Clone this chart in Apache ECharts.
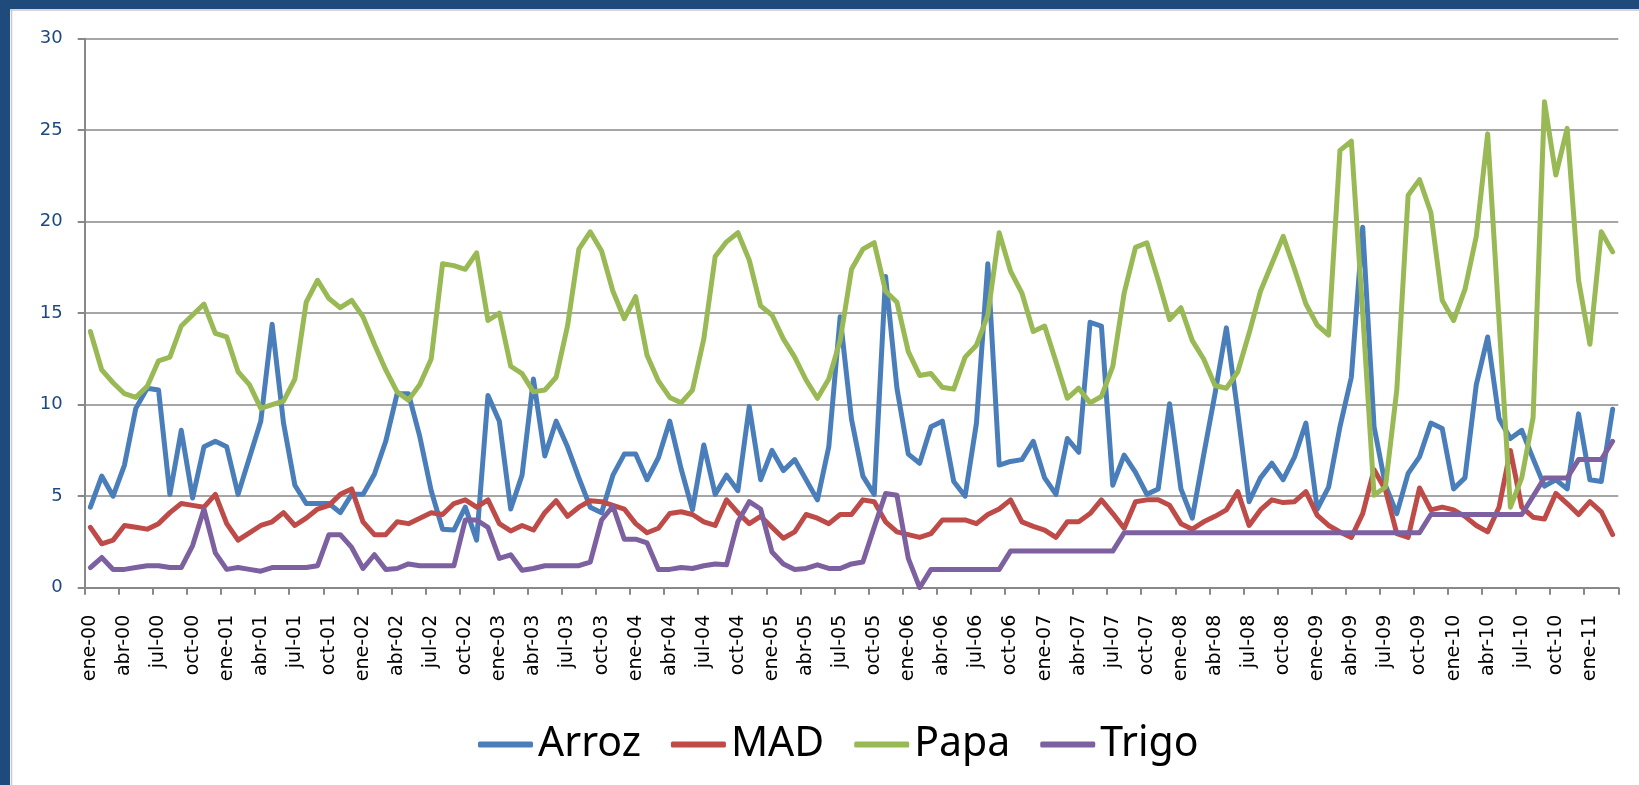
<!DOCTYPE html>
<html>
<head>
<meta charset="utf-8">
<script src="https://cdn.jsdelivr.net/npm/echarts@6/dist/echarts.min.js"></script>
<style>
html,body{margin:0;padding:0;background:#fff;}
#chart{width:1639px;height:785px;}
</style>
</head>
<body>
<div id="chart"></div>
<script>
// Month abbreviations (Spanish) and years used to form the category labels
const monthNames = ['ene','feb','mar','abr','may','jun','jul','ago','sep','oct','nov','dic'];
const years = ['00','01','02','03','04','05','06','07','08','09','10','11'];
const monthCount = 135; // ene-00 .. mar-11

const arroz = [
  4.4, 6.1, 5.0, 6.7, 9.8, 10.9, 10.8, 5.1, 8.6, 4.9, 7.7, 8.0, 7.7, 5.1, 7.1, 9.1, 14.4, 9.0, 5.6, 4.6, 4.6, 4.6, 4.1, 5.1, 5.1, 6.2, 8.0,
  10.6, 10.6, 8.25, 5.3, 3.2, 3.15, 4.4, 2.6, 10.5, 9.1, 4.3, 6.15, 11.4, 7.2, 9.1, 7.7, 6.0, 4.4, 4.1, 6.15, 7.3, 7.3, 5.9, 7.1, 9.1, 6.5,
  4.25, 7.8, 5.1, 6.15, 5.3, 9.9, 5.9, 7.5, 6.4, 7.0, 5.9, 4.8, 7.7, 14.8, 9.2, 6.1, 5.1, 17.0, 10.9, 7.3, 6.8, 8.8, 9.1, 5.8, 5.0, 9.0, 17.7,
  6.7, 6.9, 7.0, 8.0, 6.0, 5.1, 8.15, 7.4, 14.5, 14.3, 5.6, 7.25, 6.3, 5.1, 5.4, 10.05, 5.4, 3.8, 7.25, 10.6, 14.2, 9.6, 4.7, 6.0, 6.8, 5.9,
  7.15, 9.0, 4.3, 5.5, 8.8, 11.5, 19.7, 8.8, 5.6, 4.05, 6.25, 7.15, 9.0, 8.7, 5.4, 6.0, 11.1, 13.7, 9.25, 8.15, 8.6, 7.05, 5.55, 5.9, 5.4, 9.5, 5.9, 5.8, 9.75
];
const mad = [
  3.3, 2.4, 2.6, 3.4, 3.3, 3.2, 3.5, 4.1, 4.6, 4.5, 4.4, 5.1, 3.5, 2.6, 3.0, 3.4, 3.6, 4.1, 3.4, 3.8, 4.3, 4.5, 5.1, 5.4, 3.6, 2.9, 2.9,
  3.6, 3.5, 3.8, 4.1, 4.0, 4.6, 4.8, 4.4, 4.8, 3.5, 3.1, 3.4, 3.15, 4.1, 4.75, 3.9, 4.4, 4.75, 4.7, 4.5, 4.3, 3.5, 3.0, 3.25, 4.05, 4.15,
  4.0, 3.6, 3.4, 4.8, 4.1, 3.5, 3.9, 3.3, 2.7, 3.05, 4.0, 3.8, 3.5, 4.0, 4.0, 4.8, 4.7, 3.6, 3.05, 2.9, 2.75, 2.95, 3.7, 3.7, 3.7, 3.5, 4.0,
  4.3, 4.8, 3.6, 3.35, 3.15, 2.75, 3.6, 3.6, 4.05, 4.8, 4.05, 3.25, 4.7, 4.8, 4.8, 4.5, 3.5, 3.2, 3.6, 3.9, 4.25, 5.25, 3.4, 4.25, 4.8, 4.65,
  4.7, 5.25, 3.95, 3.4, 3.05, 2.75, 4.05, 6.45, 5.35, 2.95, 2.75, 5.45, 4.25, 4.4, 4.25, 3.9, 3.4, 3.05, 4.4, 7.5, 4.4, 3.85, 3.75, 5.15, 4.6, 4.0, 4.7, 4.15, 2.9
];
const papa = [
  14.0, 11.9, 11.2, 10.6, 10.4, 11.0, 12.4, 12.6, 14.3, 14.9, 15.5, 13.9, 13.7, 11.8, 11.1, 9.8, 10.0, 10.2, 11.4, 15.6, 16.8, 15.8, 15.3, 15.7, 14.8, 13.3, 11.9,
  10.7, 10.25, 11.1, 12.5, 17.7, 17.6, 17.4, 18.3, 14.6, 15.0, 12.1, 11.7, 10.7, 10.8, 11.5, 14.3, 18.5, 19.45, 18.4, 16.2, 14.7, 15.9, 12.7, 11.3, 10.4, 10.1,
  10.8, 13.6, 18.1, 18.9, 19.4, 17.9, 15.4, 14.9, 13.6, 12.6, 11.35, 10.35, 11.4, 13.5, 17.4, 18.5, 18.85, 16.2, 15.6, 12.9, 11.6, 11.7, 10.95, 10.85, 12.6, 13.25, 14.9,
  19.4, 17.3, 16.1, 14.0, 14.3, 12.35, 10.35, 10.9, 10.1, 10.45, 12.1, 16.1, 18.6, 18.85, 16.8, 14.65, 15.3, 13.5, 12.5, 11.05, 10.9, 11.8, 13.9, 16.2, 17.7, 19.2,
  17.4, 15.5, 14.35, 13.8, 23.9, 24.4, 15.0, 5.05, 5.5, 10.8, 21.45, 22.3, 20.5, 15.7, 14.6, 16.3, 19.2, 24.8, 14.6, 4.4, 6.0, 9.3, 26.55, 22.55, 25.1, 16.8, 13.3, 19.45, 18.35
];
const trigo = [
  1.1, 1.65, 1.0, 1.0, 1.1, 1.2, 1.2, 1.1, 1.1, 2.3, 4.3, 1.9, 1.0, 1.1, 1.0, 0.9, 1.1, 1.1, 1.1, 1.1, 1.2, 2.9, 2.9, 2.2, 1.05, 1.8, 1.0,
  1.05, 1.3, 1.2, 1.2, 1.2, 1.2, 3.7, 3.7, 3.3, 1.6, 1.8, 0.95, 1.05, 1.2, 1.2, 1.2, 1.2, 1.4, 3.7, 4.45, 2.65, 2.65, 2.45, 1.0, 1.0, 1.1,
  1.05, 1.2, 1.3, 1.25, 3.6, 4.7, 4.3, 1.95, 1.3, 1.0, 1.05, 1.25, 1.05, 1.05, 1.3, 1.4, 3.3, 5.15, 5.05, 1.6, 0.0, 1.0, 1.0, 1.0, 1.0, 1.0, 1.0,
  1.0, 2, 2, 2, 2, 2, 2, 2, 2, 2, 2, 3, 3, 3, 3, 3, 3, 3, 3, 3, 3, 3, 3, 3, 3, 3,
  3, 3, 3, 3, 3, 3, 3, 3, 3, 3, 3, 3, 4, 4, 4, 4, 4, 4, 4, 4, 4, 5, 6, 6, 6, 7, 7, 7, 8
];
const yTicks = [0, 5, 10, 15, 20, 25, 30];

const categories = [];
for (let i = 0; i < monthCount; i++) {
  categories.push(monthNames[i % 12] + '-' + years[Math.floor(i / 12)]);
}

const frameBlue = '#1F4A7C';
const gridGray = '#888888';
const labelFont = "'DejaVu Sans', sans-serif";

const chart = echarts.init(document.getElementById('chart'), null, {renderer: 'canvas'});

function lineSeries(name, data, color) {
  return {
    name: name, type: 'line', data: data,
    showSymbol: false, symbol: 'none', smooth: false, animation: false,
    lineStyle: {color: color, width: 5, cap: 'round', join: 'round'},
    itemStyle: {color: color}
  };
}

chart.setOption({
  backgroundColor: '#ffffff',
  animation: false,
  grid: {left: 84.7, right: 20.7, top: 38.7, bottom: 197.3, containLabel: false},
  xAxis: {
    type: 'category', data: categories, boundaryGap: true,
    axisLine: {show: true, lineStyle: {color: gridGray, width: 2}},
    axisTick: {show: true, interval: 2, length: 7, lineStyle: {color: gridGray, width: 2}},
    axisLabel: {
      interval: 2, rotate: 90, margin: 27, color: '#000000',
      fontSize: 19, fontFamily: labelFont
    },
    splitLine: {show: false}
  },
  yAxis: {
    type: 'value', min: yTicks[0], max: yTicks[yTicks.length - 1], interval: 5,
    axisLine: {show: true, lineStyle: {color: gridGray, width: 2}},
    axisTick: {show: true, length: 7, lineStyle: {color: gridGray, width: 2}},
    axisLabel: {margin: 22, color: '#1F497D', fontSize: 18, fontFamily: labelFont},
    splitLine: {show: true, lineStyle: {color: gridGray, width: 1.5}}
  },
  legend: {
    show: true, left: 473, top: 719, orient: 'horizontal',
    itemWidth: 55, itemHeight: 6, itemGap: 30,
    icon: 'roundRect',
    textStyle: {fontSize: 41, fontFamily: "'Noto Sans', 'Liberation Sans', sans-serif", color: '#000000'},
    data: ['Arroz', 'MAD', 'Papa', 'Trigo']
  },
  graphic: [
    {type: 'rect', shape: {x: 0, y: 0, width: 1639, height: 9}, style: {fill: frameBlue}, z: 100},
    {type: 'rect', shape: {x: 0, y: 0, width: 10, height: 785}, style: {fill: frameBlue}, z: 100},
    {type: 'line', shape: {x1: 11.5, y1: 9, x2: 11.5, y2: 785}, style: {stroke: '#c8c8c8', lineWidth: 1.5}, z: 100},
    {type: 'line', shape: {x1: 10, y1: 10, x2: 1639, y2: 10}, style: {stroke: '#c8c8c8', lineWidth: 1.5}, z: 100}
  ],
  series: [
    lineSeries('Arroz', arroz, '#4A7EBB'),
    lineSeries('MAD', mad, '#BE4B48'),
    lineSeries('Papa', papa, '#98B954'),
    lineSeries('Trigo', trigo, '#7D60A0')
  ]
});
</script>
</body>
</html>
